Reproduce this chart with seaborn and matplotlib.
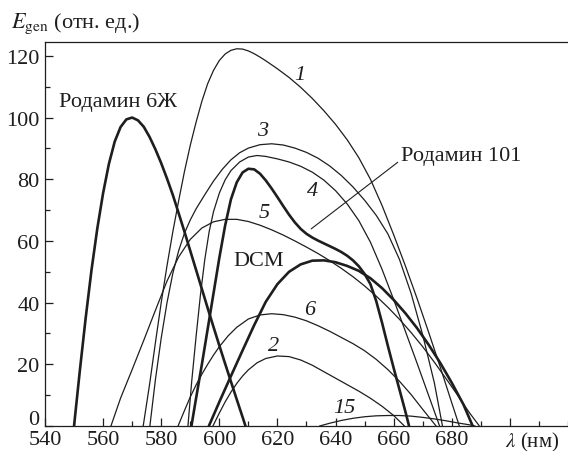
import numpy as np
import pandas as pd
import matplotlib
matplotlib.use('Agg')
import matplotlib.pyplot as plt
import seaborn as sns

# curve data: wavelength (nm) / generation energy (rel. units)
rh6g_x = [550.0, 552, 554, 556, 558, 560, 562, 564, 566, 568, 570, 572, 574, 576, 578, 580, 582, 584,
          586, 588, 590, 592, 594, 596, 598, 600, 602, 604, 606, 608, 609.0]
rh6g_y = [0, 18, 35, 50.5, 64, 75.5, 85, 92.2, 96.9, 99.4, 100, 99.1, 97, 93.7, 89.7, 85.2, 80.2, 74.9,
          69, 63, 56.8, 50.6, 44.4, 38.2, 32.1, 26.1, 20.2, 14.4, 8.6, 2.9, 0]

c1_x = [573.8, 576, 578, 580, 582, 584, 586, 588, 590, 592, 594, 596, 598, 600, 602, 604, 606, 608, 610,
        612, 614, 616, 618, 620, 624, 628, 632, 636, 640, 644, 648, 652, 656, 660, 664, 668, 672, 676,
        680, 682.6]
c1_y = [0, 13.5, 27, 40, 52, 63, 73, 82.5, 91, 98.5, 105.3, 111, 115.3, 118.5, 120.6, 121.8, 122.3, 122.2, 121.6,
        120.7, 119.6, 118.4, 117.1, 115.8, 113, 109.8, 106.2, 102.2, 97.8, 92.8, 87, 80, 71.5, 62, 52, 41.5,
        30.5, 19.2, 7.5, 0]

c3_x = [576.1, 578, 580, 582, 584, 586, 588, 590, 592, 595, 598, 601, 604, 607, 610, 614, 618, 622, 626,
        630, 634, 638, 642, 646, 650, 654, 658, 662, 666, 670, 674, 676.8]
c3_y = [0, 15, 28.5, 40, 49.5, 56.8, 62.5, 66.8, 70.4, 75, 79.4, 83.2, 86.3, 88.6, 90.1, 91.2, 91.5, 91.1, 90.1,
        88.7, 86.8, 84.3, 81.2, 77.5, 73.2, 68.3, 62.3, 54, 43, 29.5, 14, 0]

c4_x = [589.2, 590.5, 592, 593.5, 595, 596.5, 598, 600, 602, 604, 607, 610, 613, 616, 620, 624, 628, 632,
        636, 640, 644, 648, 652, 656, 660, 664, 668, 672, 675.8]
c4_y = [0, 14.5, 29, 42.5, 54, 63, 69.5, 75.5, 79.8, 82.8, 85.6, 87.2, 87.7, 87.4, 86.6, 85.6, 84.2, 82.3,
        79.7, 76.3, 72, 66.6, 59.6, 50.8, 41, 30.8, 20.5, 10, 0]

c5_x = [562.7, 566, 570, 574, 578, 582, 586, 590, 594, 598, 602, 606, 610, 614, 618, 622, 626, 630, 634,
        638, 642, 646, 650, 654, 658, 662, 666, 670, 674, 678, 682, 686, 689.5]
c5_y = [0, 9, 18.3, 27.8, 37.5, 47, 54.8, 60.5, 64.2, 66.2, 67, 67, 66.3, 65.1, 63.6, 61.9, 60, 58, 55.9,
        53.6, 51.1, 48.4, 45.4, 42.1, 38.5, 34.6, 30.3, 25.7, 20.7, 15.4, 10, 4.4, 0]

c6_x = [585.8, 588, 590, 592, 594, 596, 598, 600, 603, 606, 610, 614, 618, 622, 626, 630, 634, 638, 642,
        646, 650, 654, 658, 662, 666, 670, 674.6]
c6_y = [0, 5, 9.4, 13.3, 16.8, 20, 23, 25.7, 29.2, 32, 34.7, 36, 36.4, 36.1, 35.3, 34.1, 32.5, 30.7, 28.7,
        26.7, 24.4, 21.6, 18.3, 14.5, 10.2, 5.4, 0]

c2_x = [597.8, 600, 602, 604, 606, 608, 610, 613, 616, 620, 624, 628, 632, 636, 640, 644, 648, 652, 656,
        660, 663.7]
c2_y = [0, 4.2, 7.8, 11, 13.8, 16.2, 18.2, 20.5, 21.9, 22.7, 22.5, 21.4, 19.7, 17.6, 15.5, 13.4, 11.3, 9.0, 6.4,
        3.4, 0]

c15_x = [634.5, 638, 642, 646, 650, 654, 658, 662, 666, 670, 674, 678, 682, 686, 688]
c15_y = [0, 0.9, 1.8, 2.5, 3.0, 3.3, 3.4, 3.4, 3.2, 2.8, 2.3, 1.7, 1.0, 0.4, 0]

rh101_x = [590.4, 592, 594, 596, 598, 600, 602, 604, 606, 608, 610, 612, 614, 616, 618, 620, 622, 624, 626,
           628, 630, 632, 634, 636, 638, 640, 642, 644, 646, 648, 650, 652, 654, 656, 658, 660, 662, 664, 665.3]
rh101_y = [0, 9, 20, 31.5, 43, 54.5, 65, 73.5, 79, 82.2, 83.4, 83.2, 81.8, 79.6, 77, 74.2, 71.3, 68.5, 66,
           63.9, 62.3, 61.1, 60.1, 59.2, 58.3, 57.4, 56.4, 55.2, 53.7, 51.8, 49.3, 46, 40.5, 33.5, 26, 18.8,
           11.8, 4.8, 0]

dcm_x = [596.4, 600, 604, 608, 612, 616, 620, 624, 628, 632, 636, 640, 644, 648, 652, 656, 660, 664, 668,
         672, 676, 680, 684, 687.2]
dcm_y = [0, 7.8, 16.2, 24.5, 32.7, 40.3, 46, 50, 52.4, 53.6, 53.7, 53.1, 51.9, 50.3, 47.9, 44.7, 40.9, 36.6, 31.8,
         26.4, 20.5, 14, 7, 0]

thin_curves = [(c1_x, c1_y), (c3_x, c3_y), (c4_x, c4_y), (c5_x, c5_y),
               (c6_x, c6_y), (c2_x, c2_y), (c15_x, c15_y)]
thick_curves = [(rh6g_x, rh6g_y), (rh101_x, rh101_y), (dcm_x, dcm_y)]

# curve numbers and their spots
num_labels = ['1', '3', '4', '5', '6', '2', '15']
num_x = [627.6, 615.0, 632.2, 615.6, 631.1, 618.5, 643.1]
num_y = [114.1, 95.7, 76.3, 69.3, 37.9, 26.0, 6.1]

x_ticks = [540, 560, 580, 600, 620, 640, 660, 680, 700]
x_ticklabels = ['540', '560', '580', '600', '620', '640', '660', '680', '']
y_ticks = [0, 20, 40, 60, 80, 100, 120]
y_ticklabels = ['', '20', '40', '60', '80', '100', '120']

sns.set_style('ticks')
plt.rcParams['font.family'] = ['Liberation Serif', 'DejaVu Serif']
plt.rcParams['mathtext.fontset'] = 'stix'

ink = '#1e1e1e'
fs = 16
fig = plt.figure(figsize=(5.68, 4.52), dpi=100)
ax = fig.add_axes([0.0792, 0.0553, 0.9208, 0.8496])

for xs, ys in thin_curves:
    sns.lineplot(x=xs, y=ys, ax=ax, color=ink, linewidth=0.9, sort=False, estimator=None)
for xs, ys in thick_curves:
    sns.lineplot(x=xs, y=ys, ax=ax, color=ink, linewidth=1.9, sort=False, estimator=None)

ax.set_xlim(540, 720)
ax.set_ylim(0, 124.5)

ax.set_xticks(x_ticks)
ax.set_xticklabels(x_ticklabels)
ax.set_xticks(np.arange(540, 721, 10), minor=True)
ax.set_yticks(y_ticks)
ax.set_yticklabels(y_ticklabels)
ax.set_yticks(np.arange(0, 125, 10), minor=True)
ax.tick_params(which='both', direction='in', colors=ink, labelsize=fs, width=0.9)
ax.tick_params(which='major', length=6)
ax.tick_params(which='minor', length=3.5)
ax.tick_params(axis='x', pad=3)
ax.tick_params(axis='y', pad=4)

for side in ['left', 'bottom', 'top']:
    ax.spines[side].set_color(ink)
    ax.spines[side].set_linewidth(0.9)
ax.spines['right'].set_visible(False)

# "0" sits a bit higher so it clears the 540
ax.annotate('0', xy=(0, 0), xycoords=('axes fraction', 'data'), xytext=(-4, 4.5),
            textcoords='offset points', ha='right', va='center', fontsize=fs, color=ink)

# text on the plot
for lab, tx, ty in zip(num_labels, num_x, num_y):
    ax.text(tx, ty, lab, fontsize=fs, style='italic', ha='center', va='center', color=ink)

ax.text(544.8, 105.2, 'Родамин 6Ж', fontsize=fs, ha='left', va='center', color=ink)
ax.text(662.6, 87.6, 'Родамин 101', fontsize=fs, ha='left', va='center', color=ink)
ax.text(604.7, 53.6, 'DCM', fontsize=fs, ha='left', va='center', color=ink)
ax.plot([661.4, 631.6], [85.5, 63.9], color=ink, linewidth=0.8)

ax.annotate(r'$\lambda$ (нм)', xy=(698.4, 0), xycoords=('data', 'axes fraction'), xytext=(0, -2.5),
            textcoords='offset points', ha='left', va='top', fontsize=15, color=ink)
fig.text(0.02, 0.948, r'$E_{\mathrm{gen}}$ (отн. ед.)', fontsize=fs, ha='left', va='center', color=ink)

fig.savefig('out.png', dpi=100)
